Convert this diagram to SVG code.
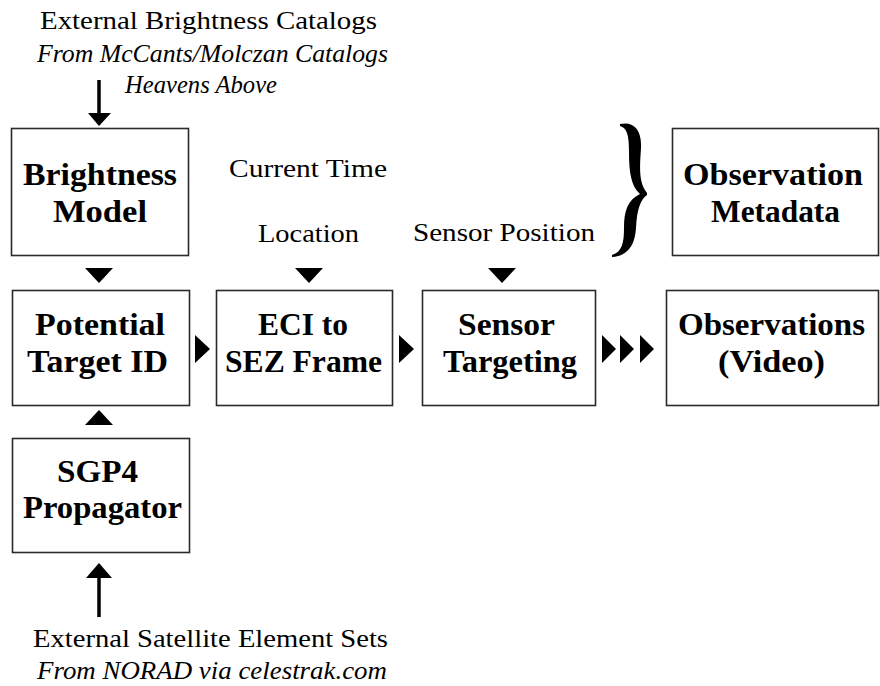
<svg xmlns="http://www.w3.org/2000/svg" width="880" height="686" viewBox="0 0 880 686">
  <style>
    .box { fill: #ffffff; stroke: #2a2a2a; stroke-width: 1.6; }
    .title { font-family: "Liberation Serif", "Times New Roman", serif; font-weight: bold; font-size: 32px; fill: #000; }
    .label { font-family: "Liberation Serif", "Times New Roman", serif; font-size: 25px; fill: #000; }
    .note { font-family: "Liberation Serif", "Times New Roman", serif; font-style: italic; font-size: 25px; fill: #000; }
    .head { fill: #000; stroke: none; }
    .shaft { stroke: #000; stroke-width: 3.5; fill: none; }
  </style>
  <rect width="880" height="686" fill="#ffffff"/>

  <!-- external source labels -->
  <g id="brightness-sources">
    <text class="label" x="40" y="29" textLength="337" lengthAdjust="spacingAndGlyphs">External Brightness Catalogs</text>
    <text class="note" x="37" y="62" textLength="351" lengthAdjust="spacingAndGlyphs">From McCants/Molczan Catalogs</text>
    <text class="note" x="125" y="93" textLength="152" lengthAdjust="spacingAndGlyphs">Heavens Above</text>
  </g>
  <g id="element-sources">
    <text class="label" x="33" y="647" textLength="355" lengthAdjust="spacingAndGlyphs">External Satellite Element Sets</text>
    <text class="note" x="37" y="679" textLength="350" lengthAdjust="spacingAndGlyphs">From NORAD via celestrak.com</text>
  </g>

  <!-- input labels -->
  <g id="current-time">
    <text class="label" x="229" y="177" textLength="158" lengthAdjust="spacingAndGlyphs">Current Time</text>
  </g>
  <g id="location">
    <text class="label" x="258" y="242" textLength="101" lengthAdjust="spacingAndGlyphs">Location</text>
  </g>
  <g id="sensor-position">
    <text class="label" x="413" y="241" textLength="182" lengthAdjust="spacingAndGlyphs">Sensor Position</text>
  </g>

  <!-- process nodes -->
  <g id="brightness-model">
    <rect class="box" x="11.5" y="128.5" width="177" height="127"/>
    <text class="title" x="23" y="185" textLength="154" lengthAdjust="spacingAndGlyphs">Brightness</text>
    <text class="title" x="53" y="222" textLength="94" lengthAdjust="spacingAndGlyphs">Model</text>
  </g>
  <g id="observation-metadata">
    <rect class="box" x="672.5" y="128.5" width="206" height="127"/>
    <text class="title" x="683" y="185" textLength="180" lengthAdjust="spacingAndGlyphs">Observation</text>
    <text class="title" x="711" y="222" textLength="129" lengthAdjust="spacingAndGlyphs">Metadata</text>
  </g>
  <g id="potential-target-id">
    <rect class="box" x="12.5" y="290.5" width="177" height="115"/>
    <text class="title" x="35" y="335" textLength="130" lengthAdjust="spacingAndGlyphs">Potential</text>
    <text class="title" x="27" y="372" textLength="141" lengthAdjust="spacingAndGlyphs">Target ID</text>
  </g>
  <g id="eci-to-sez">
    <rect class="box" x="216.5" y="290.5" width="176" height="115"/>
    <text class="title" x="258" y="335" textLength="90" lengthAdjust="spacingAndGlyphs">ECI to</text>
    <text class="title" x="225" y="372" textLength="157" lengthAdjust="spacingAndGlyphs">SEZ Frame</text>
  </g>
  <g id="sensor-targeting">
    <rect class="box" x="422.5" y="290.5" width="173" height="115"/>
    <text class="title" x="458" y="335" textLength="97" lengthAdjust="spacingAndGlyphs">Sensor</text>
    <text class="title" x="443" y="372" textLength="134" lengthAdjust="spacingAndGlyphs">Targeting</text>
  </g>
  <g id="observations-video">
    <rect class="box" x="666.5" y="290.5" width="212" height="115"/>
    <text class="title" x="678" y="335" textLength="187" lengthAdjust="spacingAndGlyphs">Observations</text>
    <text class="title" x="718" y="372" textLength="107" lengthAdjust="spacingAndGlyphs">(Video)</text>
  </g>
  <g id="sgp4-propagator">
    <rect class="box" x="12.5" y="438.5" width="177" height="114"/>
    <text class="title" x="57" y="482" textLength="81" lengthAdjust="spacingAndGlyphs">SGP4</text>
    <text class="title" x="23" y="518" textLength="159" lengthAdjust="spacingAndGlyphs">Propagator</text>
  </g>

  <!-- connectors -->
  <g id="connectors">
    <!-- catalogs into brightness model -->
    <line class="shaft" x1="99" y1="80" x2="99" y2="114"/>
    <polygon class="head" points="88,113 111,113 99,126"/>
    <!-- element sets into propagator -->
    <line class="shaft" x1="99" y1="577" x2="99" y2="617"/>
    <polygon class="head" points="99,563 112,578 86,578"/>
    <!-- downward flow markers -->
    <polygon class="head" points="85,268 113,268 99,283"/>
    <polygon class="head" points="295,268 323,268 309,283"/>
    <polygon class="head" points="488,268 516,268 502,283"/>
    <!-- propagator up to target id -->
    <polygon class="head" points="99,410 113,425 85,425"/>
    <!-- rightward flow markers -->
    <polygon class="head" points="195,335 210,349 195,363"/>
    <polygon class="head" points="399,335 414,349 399,363"/>
    <polygon class="head" points="602,335 616,349 602,363"/>
    <polygon class="head" points="620,335 634,349 620,363"/>
    <polygon class="head" points="640,335 654,349 640,363"/>
    <!-- brace grouping the inputs into metadata -->
    <path class="head" d="M 620,124 C 634,121 642,130 641,148 C 640,165 638,182 647,193 L 647,195 C 640,200 637,210 636,228 C 635,245 628,256 612,257 L 612,255 C 622,252 624,243 624,228 C 624,210 628,200 640,194 C 631,186 629,172 629,152 C 629,135 627,128 620,126 Z"/>
  </g>
</svg>
